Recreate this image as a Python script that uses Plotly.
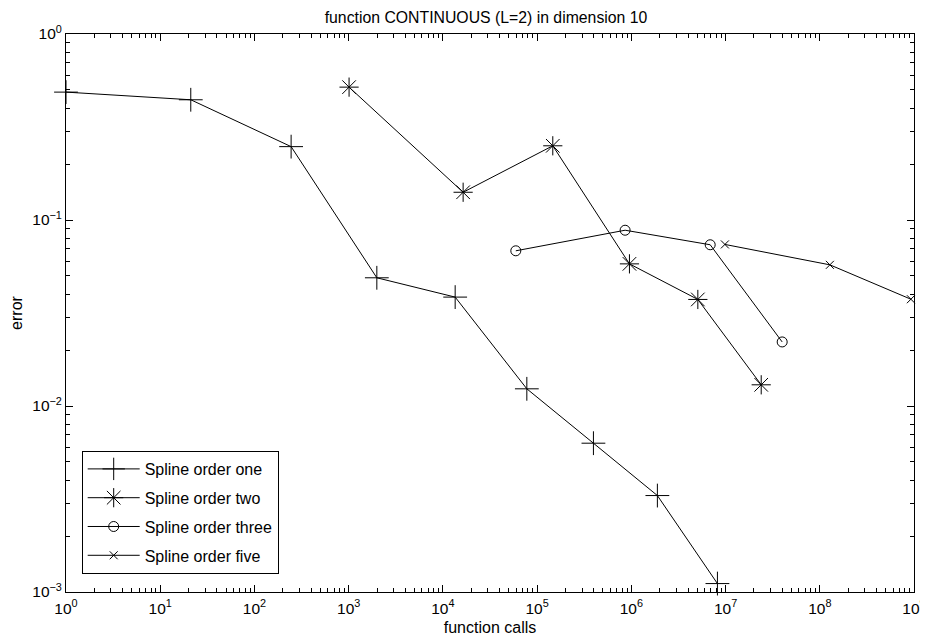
import plotly.graph_objects as go

title_text = "function CONTINUOUS (L=2) in dimension 10"
x_label = "function calls"
y_label = "error"

s1_name = "Spline order one"
s1_x = [1, 21.1, 245, 1990, 13500, 77800, 396000, 1.89e6, 8.2e6]
s1_y = [0.487, 0.443, 0.248, 0.0489, 0.0385, 0.01237, 0.00631, 0.0033, 0.00111]

s2_name = "Spline order two"
s2_x = [1010, 16400, 146700, 955000, 5.08e6, 2.39e7]
s2_y = [0.518, 0.141, 0.2506, 0.0581, 0.0374, 0.013]

s3_name = "Spline order three"
s3_x = [59400, 859000, 6.87e6, 3.99e7]
s3_y = [0.0683, 0.0881, 0.0736, 0.0221]

s4_name = "Spline order five"
s4_x = [9.84e6, 1.28e8, 9.27e8]
s4_y = [0.0739, 0.0574, 0.0375]

x_tick_exps = [0, 1, 2, 3, 4, 5, 6, 7, 8, 9]
y_tick_exps = [-3, -2, -1, 0]
minor_mults = [2, 3, 4, 5, 6, 7, 8, 9]


def sup_label(e):
    return "10<sup>%s</sup>" % (str(e).replace("-", "\u2212"))


def minor_vals(exps):
    return [m * 10 ** e for e in exps[:-1] for m in minor_mults]


fig = go.Figure()
series = [
    (s1_name, s1_x, s1_y, "cross-thin-open", 17),
    (s2_name, s2_x, s2_y, "asterisk-open", 16),
    (s3_name, s3_x, s3_y, "circle-open", 10),
    (s4_name, s4_x, s4_y, "x-thin-open", 8),
]
for i, (name, xs, ys, sym, sz) in enumerate(series):
    fig.add_trace(go.Scatter(
        x=xs, y=ys, name=name, mode="lines+markers", legendgroup="g%d" % i,
        line=dict(color="black", width=1),
        marker=dict(symbol=sym, size=sz, color="black",
                    line=dict(color="black", width=1)),
        cliponaxis=False,
    ))

FONT = "Liberation Sans, Arial, sans-serif"
axis_common = dict(
    type="log", showline=True, linecolor="black", linewidth=1, mirror="ticks",
    ticks="inside", ticklen=7, tickcolor="black", showgrid=False, zeroline=False,
    tickfont=dict(family=FONT, size=15.5, color="black"),
    ticklabeloverflow="allow", automargin=False,
)

# page body has an 8px default margin; figure size/margins compensate for it
fig.update_layout(
    width=928, height=628,
    paper_bgcolor="white", plot_bgcolor="white",
    margin=dict(l=58, r=22, t=26, b=44, autoexpand=False),
    font=dict(family=FONT, color="black", size=15),
    title=dict(text=title_text, x=478 / 928, xanchor="center", y=1 - 9 / 628,
               yanchor="middle", font=dict(size=15.8)),
    xaxis=dict(axis_common, range=[0, 9],
               tickvals=[10 ** e for e in x_tick_exps],
               ticktext=[sup_label(e) for e in x_tick_exps],
               ticklabelstandoff=2,
               minor=dict(ticks="inside", ticklen=4, tickcolor="black", showgrid=False,
                          tickvals=minor_vals(x_tick_exps)),
               title=dict(text=x_label, standoff=6, font=dict(size=16))),
    yaxis=dict(axis_common, range=[-3, 0],
               tickvals=[10 ** e for e in y_tick_exps],
               ticktext=[sup_label(e) for e in y_tick_exps],
               minor=dict(ticks="inside", ticklen=4, tickcolor="black", showgrid=False,
                          tickvals=minor_vals(y_tick_exps)),
               title=dict(text=y_label, standoff=9, font=dict(size=16))),
    legend=dict(x=0.0185, y=0.2527, xanchor="left", yanchor="top",
                bordercolor="black", borderwidth=1, bgcolor="white",
                font=dict(size=16), tracegroupgap=5, itemwidth=52),
    showlegend=True,
)

fig.write_html("out.html")
